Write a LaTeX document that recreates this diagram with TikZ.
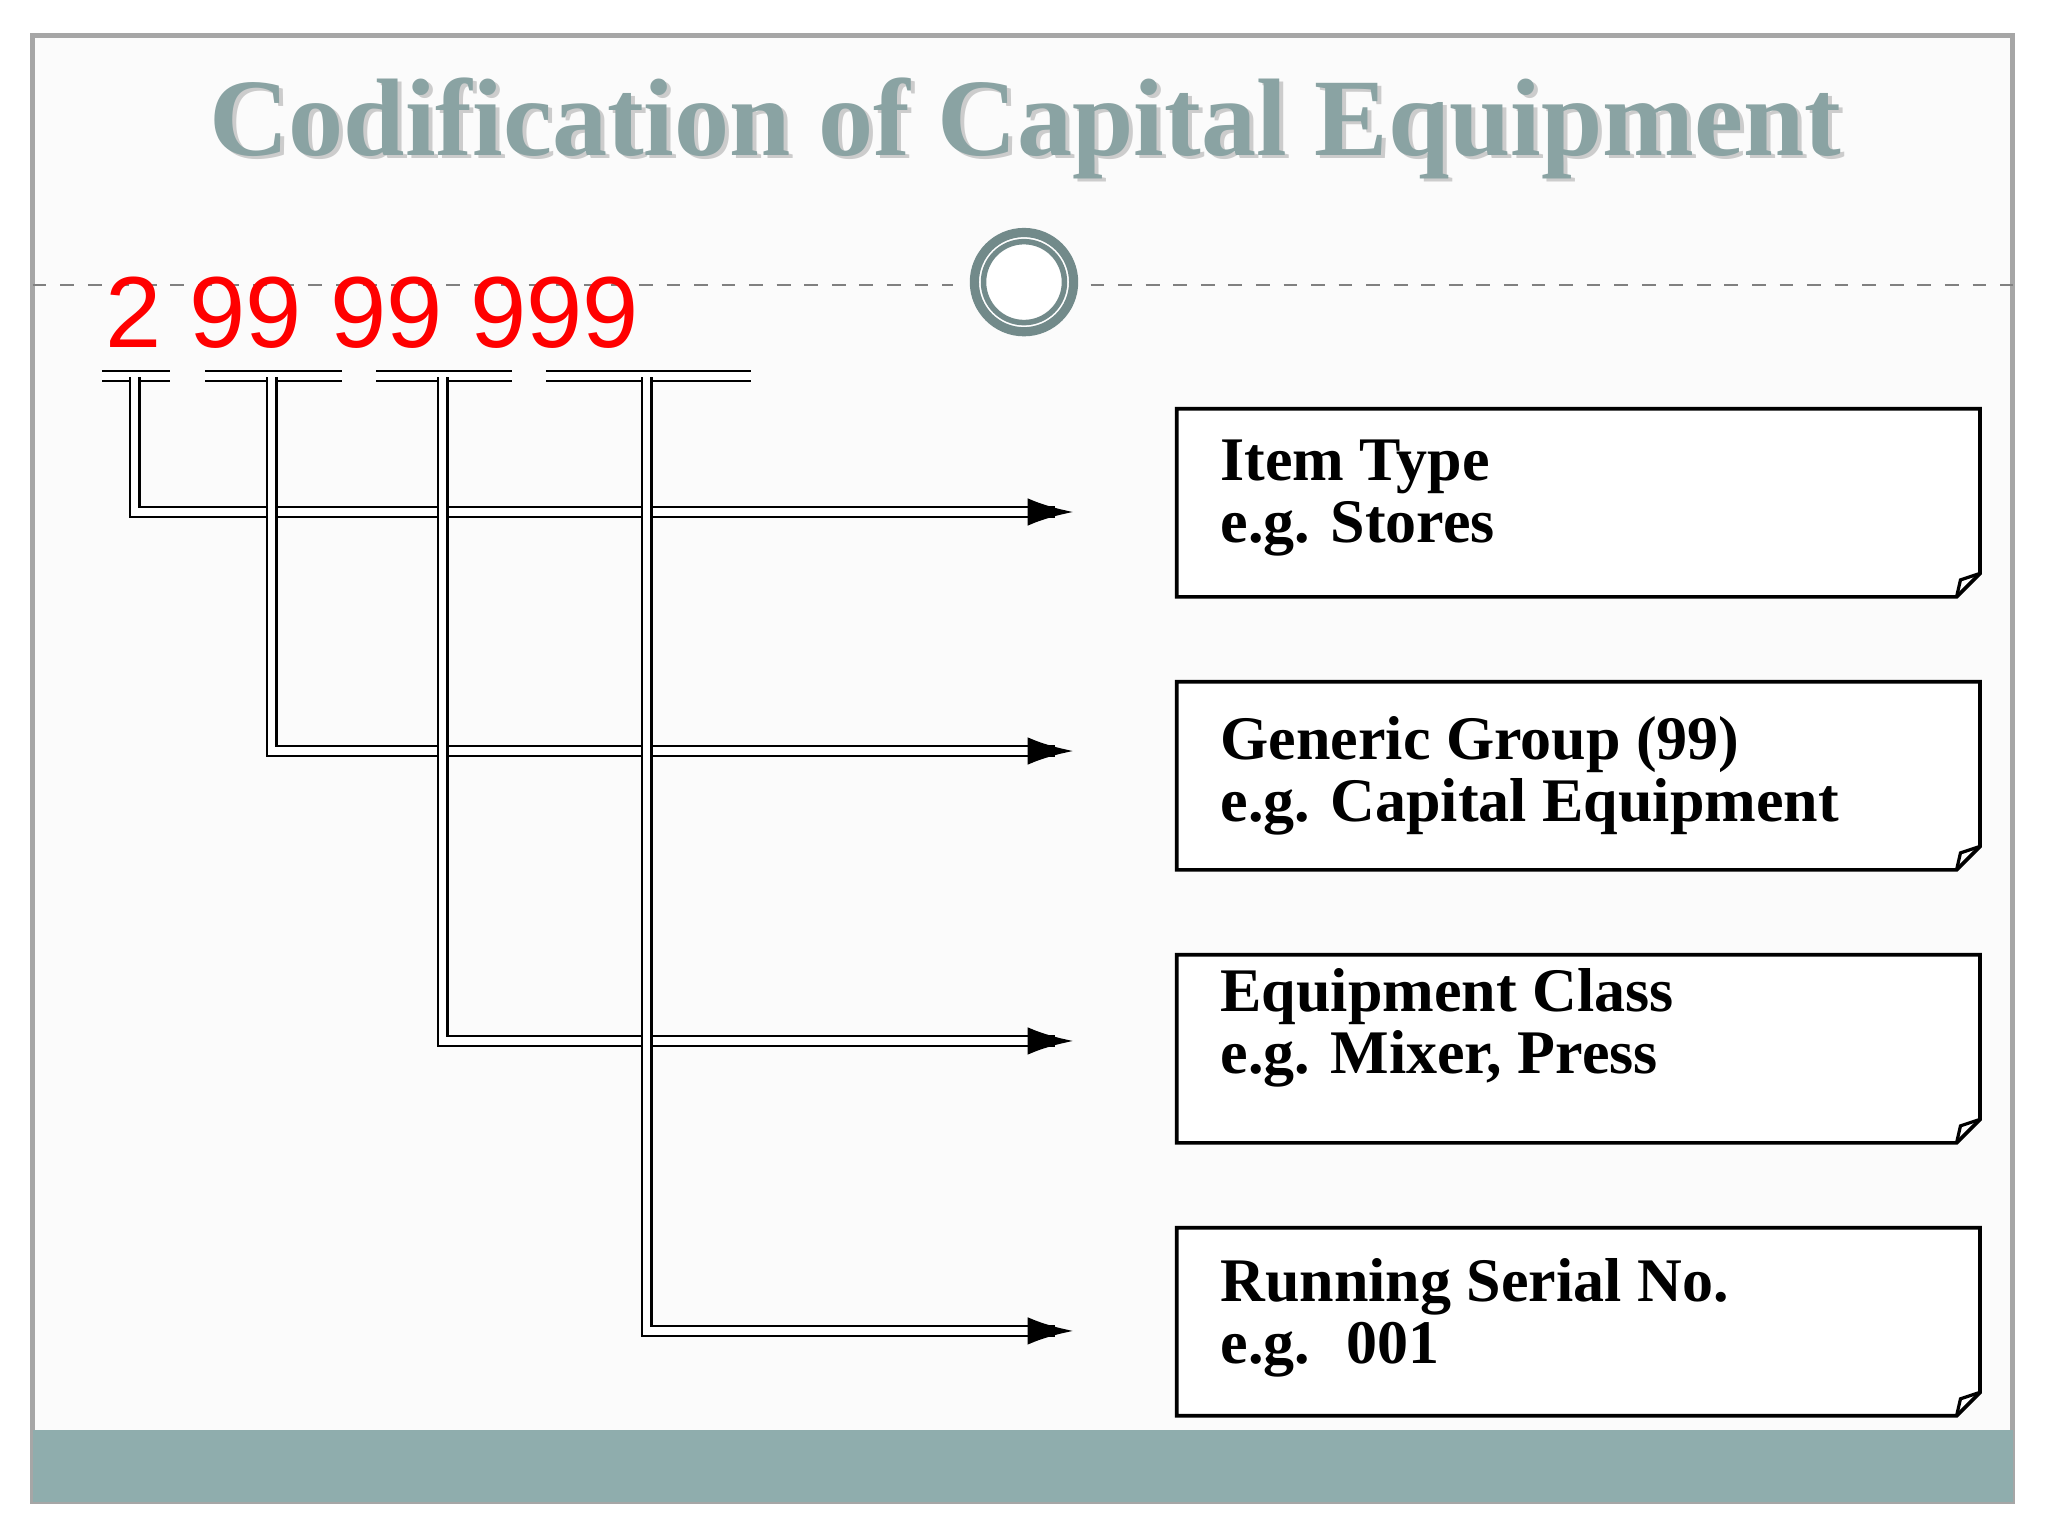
\documentclass[tikz,border=0pt]{standalone}
\usepackage{fontspec}
\setmainfont{Liberation Serif}
\newfontfamily\numfont{Liberation Sans}
\usetikzlibrary{arrows.meta}
\definecolor{teal1}{HTML}{8FADAD}
\definecolor{titlec}{HTML}{8AA3A3}
\begin{document}
\begin{tikzpicture}[x=0.01cm,y=-0.01cm,
  dl/.style={double,double distance=1.6pt,line width=0.5pt},
  arr/.style={line width=0.9pt,-{Latex[length=10pt,width=6pt]}},
  infobox/.style={draw,line width=0.8pt,fill=white},
  btxt/.style={anchor=north west,align=left,font=\bfseries\fontsize{13.5}{13.6}\selectfont}]
\useasboundingbox (0,0) rectangle (1568,1176);
\fill[white] (0,0) rectangle (1568,1176);
\draw[gray!70,line width=1pt,fill=gray!3] (25,27) rectangle (1541,1150);
\fill[teal1] (25,1095) rectangle (1541,1150);
\node[text=gray!40,font=\bfseries\fontsize{24}{30}\selectfont] at (788,101) {Codification of Capital Equipment};
\node[text=titlec,font=\bfseries\fontsize{24}{30}\selectfont] (title) at (785,98) {Codification of Capital Equipment};
\draw[gray,dashed,line width=0.5pt] (25,218) -- (730,218);
\draw[gray,dashed,line width=0.5pt] (835,218) -- (1541,218);
\draw[teal1!80!black,line width=2pt,fill=white] (784,216) circle (38);
\draw[teal1!80!black,line width=1.2pt] (784,216) circle (31);
\node[anchor=base west,text=red,font=\numfont\fontsize{22}{26}\selectfont,inner sep=0pt] (num) at (80,266) {2 99 99 999};
\foreach \a/\b in {78/130,157/262,288/392,418/575}
  \draw[dl] (\a,288) -- (\b,288);
\foreach \y/\n in {313/b1,522/b2,731/b3,940/b4}{
  \draw[infobox] (901,\y) -- (1516,\y) -- (1516,\y+126) -- (1498,\y+144) -- (901,\y+144) -- cycle;
  \draw[line width=0.7pt] (1498,\y+144) -- (1501,\y+131) -- (1516,\y+126);
  \coordinate (\n) at (901,\y);
}
\node[btxt] at (922,324) {Item Type\\e.g. Stores};
\node[btxt] at (922,536) {Generic Group (99)\\e.g. Capital Equipment};
\node[btxt] at (922,729) {Equipment Class\\e.g. Mixer, Press};
\node[btxt] at (922,951) {Running Serial No.\\e.g.~ 001};
\foreach \x/\y/\n in {103/392/a,208/575/b,339/797/c,495/1019/d}{
  \coordinate (\n0) at (\x,289);
  \coordinate (\n1) at (\x,\y);
  \coordinate (\n2) at (808,\y);
  \coordinate (\n3) at (822,\y);
  \draw[dl] (\n0) -- (\n1) -- (\n2);
  \draw[arr] (\n2) -- (\n3);
}
\end{tikzpicture}
\end{document}
